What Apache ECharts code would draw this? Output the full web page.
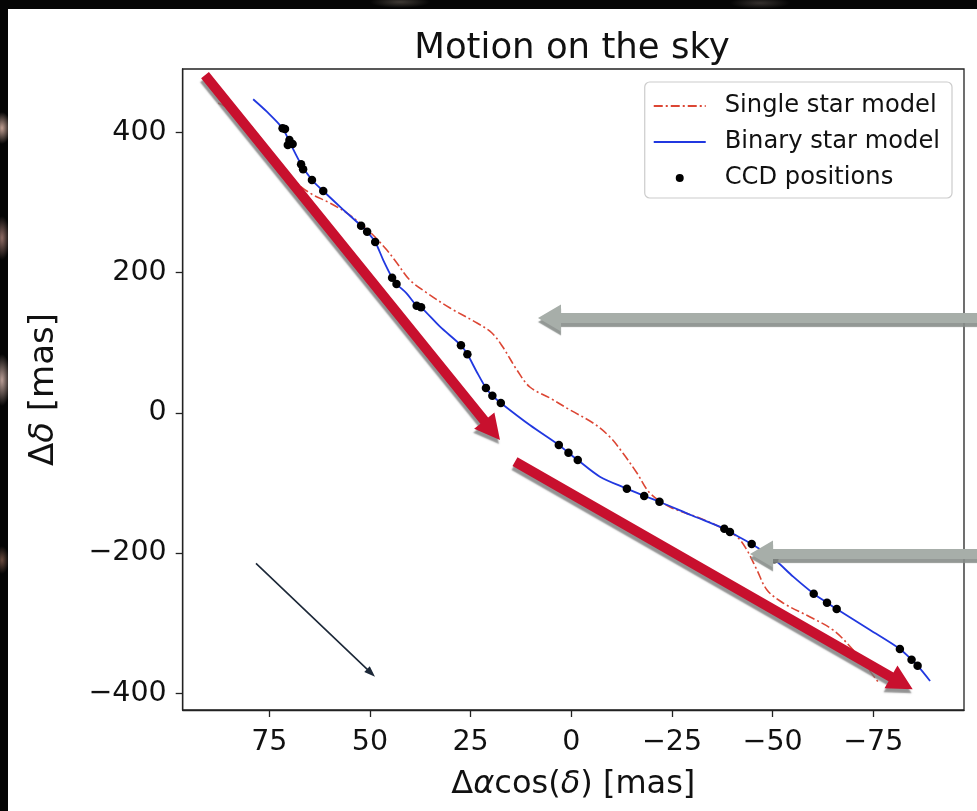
<!DOCTYPE html>
<html>
<head>
<meta charset="utf-8">
<title>Motion on the sky</title>
<script src="https://cdn.jsdelivr.net/npm/echarts@6/dist/echarts.min.js"></script>
<style>
  html, body { margin: 0; padding: 0; width: 977px; height: 811px; overflow: hidden; }
  body {
    background:
      radial-gradient(ellipse 9px 16px at 2px 128px, rgba(225,185,170,0.85), rgba(0,0,0,0) 100%),
      radial-gradient(ellipse 8px 22px at 2px 238px, rgba(200,150,140,0.7), rgba(0,0,0,0) 100%),
      radial-gradient(ellipse 9px 26px at 2px 380px, rgba(230,195,185,0.8), rgba(0,0,0,0) 100%),
      radial-gradient(ellipse 7px 14px at 2px 560px, rgba(170,120,100,0.6), rgba(0,0,0,0) 100%),
      radial-gradient(ellipse 30px 6px at 400px 2px, rgba(120,110,100,0.5), rgba(0,0,0,0) 100%),
      radial-gradient(ellipse 30px 6px at 760px 3px, rgba(110,100,95,0.45), rgba(0,0,0,0) 100%),
      #050505;
  }
  #chart { position: absolute; left: 8px; top: 9px; width: 969px; height: 802px; background: #ffffff; }
</style>
</head>
<body>
<div id="chart"></div>
<script>
// ---- Data (mas) ----
// Single star model track: proper motion + parallax
const singleX = [87.7, 83.5, 79.8, 76.8, 73.6, 69.9, 64.9, 59.9, 55.0, 50.0, 45.8, 43.3, 40.1, 35.8, 30.1, 23.4, 19.7, 17.0, 13.5, 10.3, 5.3, 0.3, -5.4, -9.6, -12.8, -16.3, -19.5, -24.5, -31.2, -36.9, -41.2, -43.6, -46.1, -48.6, -52.6, -59.3, -65.0, -70.0, -73.4, -76.2];
const singleY = [441.8, 428.9, 410.4, 389.0, 363.4, 336.3, 313.4, 299.1, 282.0, 257.8, 232.1, 213.6, 189.4, 170.8, 149.4, 128.0, 113.8, 93.8, 61.0, 36.8, 21.1, 4.0, -14.5, -34.5, -57.3, -85.8, -114.3, -134.2, -148.5, -162.8, -177.1, -195.6, -224.1, -252.6, -271.2, -291.2, -309.7, -338.2, -362.5, -383.9];

// Binary star model track
const binaryX = [79.0, 75.6, 71.7, 69.9, 67.1, 64.4, 61.6, 57.0, 52.2, 50.7, 48.7, 46.7, 44.5, 43.4, 40.9, 38.4, 37.3, 32.6, 27.4, 25.8, 23.5, 21.2, 19.6, 17.5, 10.3, 3.1, 0.7, -1.6, -7.1, -13.8, -18.1, -21.9, -30.0, -38.0, -39.4, -44.8, -50.4, -55.1, -60.2, -63.5, -65.9, -74.2, -81.6, -84.5, -86.0, -89.1];
const binaryY = [447.2, 429.4, 405.7, 385.5, 354.4, 332.0, 316.3, 291.6, 266.8, 258.3, 243.6, 217.9, 192.7, 183.7, 170.4, 152.7, 150.4, 122.8, 96.3, 83.4, 58.6, 35.4, 24.4, 14.0, -17.5, -45.9, -56.9, -67.3, -91.1, -108.2, -118.6, -126.8, -146.4, -165.3, -170.0, -187.1, -208.9, -233.7, -258.0, -270.8, -279.8, -309.7, -336.8, -352.1, -360.6, -382.5];

// Measured CCD positions
const ccdX = [71.7, 71.1, 70.0, 70.4, 69.2, 67.1, 66.6, 64.4, 61.6, 52.2, 50.7, 48.7, 44.5, 43.4, 38.4, 37.3, 27.4, 25.8, 21.2, 19.6, 17.5, 3.1, 0.7, -1.6, -13.8, -18.1, -21.9, -38.0, -39.4, -44.8, -50.4, -60.2, -63.5, -65.9, -81.6, -84.5, -86.0];
const ccdY = [405.7, 404.7, 389.0, 381.9, 383.3, 354.4, 347.2, 332.0, 316.3, 266.8, 258.3, 243.6, 192.7, 183.7, 152.7, 150.4, 96.3, 83.4, 35.4, 24.4, 14.0, -45.9, -56.9, -67.3, -108.2, -118.6, -126.8, -165.3, -170.0, -187.1, -208.9, -258.0, -270.8, -279.8, -336.8, -352.1, -360.6];

// Axis ticks
const xTicks = [75, 50, 25, 0, -25, -50, -75];
const yTicks = [400, 200, 0, -200, -400];

// Overlay arrows, as [x0, y0, x1, y1] in data units (tail -> tip)
const trendArrows = [[90.96, 481.7, 17.71, -38.8], [13.98, -69.7, -84.78, -394.3]];
const pointerArrows = [[-103, 135.2, 8.27, 135.2], [-103, -201.4, -44.38, -201.4]];
const motionArrow = [78.30, -214.6, 48.75, -376.3];

// ---- Chart ----
const FONT = 'DejaVu Sans';
const TXT = '#111111';
const AX = '#222222';
const fmt = v => (v < 0 ? '\u2212' + Math.abs(v) : String(v));
const zip = (xs, ys) => xs.map((x, i) => [x, ys[i]]);
const rich = size => ({
  r: { fontFamily: FONT, fontSize: size, color: TXT },
  i: { fontFamily: FONT, fontSize: size, color: TXT, fontStyle: 'italic' }
});

const chart = echarts.init(document.getElementById('chart'), null, { renderer: 'canvas' });

const axisCommon = {
  type: 'value',
  nameLocation: 'middle',
  axisLine: { show: true, onZero: false, lineStyle: { color: AX, width: 1.3 } },
  splitLine: { show: false }
};

chart.setOption({
  animation: false,
  textStyle: { fontFamily: FONT },
  title: {
    text: 'Motion on the sky',
    left: 559, top: 17, textAlign: 'center',
    textStyle: { fontFamily: FONT, fontSize: 35.5, fontWeight: 'normal', color: TXT }
  },
  legend: {
    orient: 'vertical', right: 25, top: 73,
    itemWidth: 52, itemHeight: 8, itemGap: 12,
    padding: [12, 12, 8, 8],
    backgroundColor: 'rgba(255,255,255,0.85)',
    borderColor: '#cccccc', borderWidth: 1.2, borderRadius: 5,
    selectedMode: false,
    textStyle: { fontFamily: FONT, fontSize: 24.2, color: TXT, padding: [0, 0, 0, 14] },
    data: [
      { name: 'Single star model', itemStyle: { opacity: 0 } },
      { name: 'Binary star model', itemStyle: { opacity: 0 } },
      { name: 'CCD positions' }
    ]
  },
  grid: {
    left: 174.7, right: 13, top: 60, bottom: 101,
    show: true, borderColor: AX, borderWidth: 1.3, backgroundColor: '#ffffff'
  },
  xAxis: Object.assign({}, axisCommon, {
    inverse: true, min: -97.52, max: 96.5,
    name: '{r|\u0394}{i|\u03b1}{r|cos(}{i|\u03b4}{r|) [mas]}',
    nameGap: 59,
    nameTextStyle: { rich: rich(32) },
    axisTick: { show: true, customValues: xTicks, length: 7, lineStyle: { color: AX, width: 1.3 } },
    axisLabel: { customValues: xTicks, formatter: fmt, fontFamily: FONT, fontSize: 28.5, color: TXT, margin: 18 }
  }),
  yAxis: Object.assign({}, axisCommon, {
    min: -423.8, max: 490.3,
    name: '{r|\u0394}{i|\u03b4}{r| [mas]}',
    nameGap: 122,
    nameTextStyle: { rich: rich(34) },
    axisTick: { show: true, customValues: yTicks, length: 7, lineStyle: { color: AX, width: 1.3 } },
    axisLabel: { customValues: yTicks, formatter: fmt, fontFamily: FONT, fontSize: 28.5, color: TXT, margin: 16 }
  }),
  series: [
    {
      name: 'Single star model', type: 'line', data: zip(singleX, singleY),
      symbol: 'none', smooth: 0.35, z: 2,
      lineStyle: { color: '#dc4634', width: 1.6, type: [9, 3, 2, 3] },
      itemStyle: { color: '#dc4634' }
    },
    {
      name: 'Binary star model', type: 'line', data: zip(binaryX, binaryY),
      symbol: 'none', smooth: 0.3, z: 3,
      lineStyle: { color: '#2138e0', width: 1.8 },
      itemStyle: { color: '#2138e0' }
    },
    {
      name: 'CCD positions', type: 'scatter', data: zip(ccdX, ccdY),
      symbol: 'circle', symbolSize: 8.5, z: 4,
      itemStyle: { color: '#000000', opacity: 1 }
    }
  ]
});

// ---- Overlay arrows, placed through the axes' own scales ----
const toPx = (x, y) => chart.convertToPixel({ gridIndex: 0 }, [x, y]);

function arrowPoints(p0, p1, shaft, headW, headL) {
  const dx = p1[0] - p0[0], dy = p1[1] - p0[1];
  const len = Math.hypot(dx, dy);
  const ux = dx / len, uy = dy / len, nx = -uy, ny = ux;
  const bx = p1[0] - ux * headL, by = p1[1] - uy * headL;
  const s = shaft / 2, h = headW / 2;
  return [
    [p0[0] + nx * s, p0[1] + ny * s],
    [bx + nx * s, by + ny * s],
    [bx + nx * h, by + ny * h],
    [p1[0], p1[1]],
    [bx - nx * h, by - ny * h],
    [bx - nx * s, by - ny * s],
    [p0[0] - nx * s, p0[1] - ny * s]
  ];
}

function arrowElement(a, shaft, headW, headL, style) {
  return {
    type: 'polygon', silent: true, z: 100,
    shape: { points: arrowPoints(toPx(a[0], a[1]), toPx(a[2], a[3]), shaft, headW, headL) },
    style: style
  };
}

const graphics = [];
trendArrows.forEach(a => graphics.push(arrowElement(a, 10, 26, 25, {
  fill: '#c8102e', shadowColor: 'rgba(120,120,120,0.8)', shadowBlur: 1.5, shadowOffsetX: -1, shadowOffsetY: 4
})));
pointerArrows.forEach(a => graphics.push(arrowElement(a, 10, 27, 23, {
  fill: '#a7aea9', shadowColor: 'rgba(135,141,137,0.9)', shadowBlur: 1, shadowOffsetX: 0, shadowOffsetY: 4
})));
graphics.push(arrowElement(motionArrow, 1.6, 8, 11, { fill: '#1c2838' }));

chart.setOption({ graphic: graphics });
</script>
</body>
</html>
